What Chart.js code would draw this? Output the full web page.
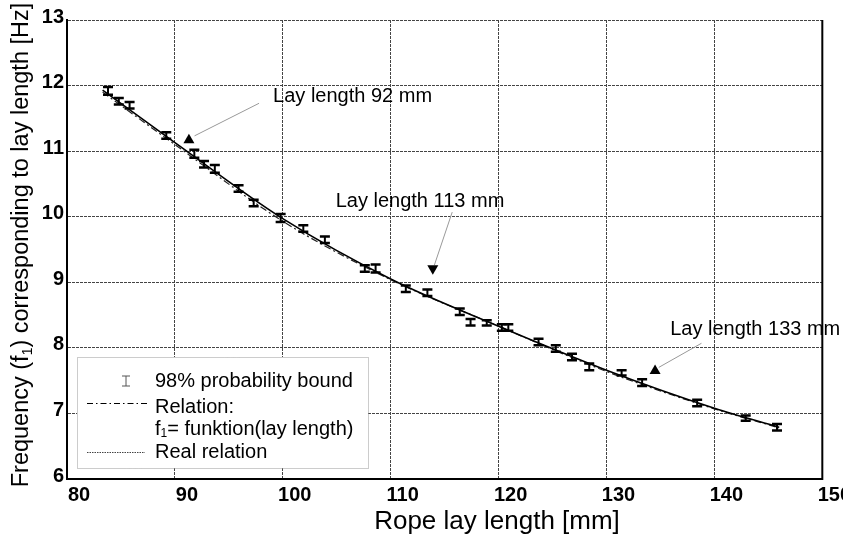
<!DOCTYPE html>
<html>
<head>
<meta charset="utf-8">
<title>Frequency vs rope lay length</title>
<script src="https://cdn.jsdelivr.net/npm/chart.js@4.4.0/dist/chart.umd.min.js"></script>
<style>
  html, body { margin: 0; padding: 0; background: #fff; }
  #wrap { width: 843px; height: 540px; }
</style>
</head>
<body>
<div id="wrap"><canvas id="chart" width="843" height="540"></canvas></div>
<script>
// Measured points: rope lay length [mm] -> frequency f1 [Hz], with 98% bound (half height)
const layLength = [83.8, 84.8, 85.8, 89.2, 91.8, 92.7, 93.7, 95.9, 97.3, 99.8,
                   101.9, 103.9, 107.6, 108.6, 111.4, 113.4, 116.4, 117.4, 118.9, 120.3,
                   120.9, 123.7, 125.3, 126.8, 128.4, 131.4, 133.3, 138.4, 142.9, 145.8];
const freq = [11.92, 11.76, 11.70, 11.24, 10.96, 10.80, 10.73, 10.43, 10.21, 9.98,
              9.82, 9.65, 9.21, 9.21, 8.90, 8.84, 8.55, 8.39, 8.38, 8.31,
              8.31, 8.09, 7.99, 7.86, 7.71, 7.62, 7.47, 7.16, 6.93, 6.79];
const bound = [0.06, 0.05, 0.05, 0.05, 0.06, 0.05, 0.06, 0.05, 0.05, 0.06,
               0.05, 0.05, 0.05, 0.06, 0.05, 0.05, 0.05, 0.05, 0.04, 0.05,
               0.05, 0.05, 0.05, 0.05, 0.05, 0.04, 0.05, 0.05, 0.04, 0.05];

// Relation: f1 = funktion(lay length)  (dash-dot)
const relationX = [83.3, 90, 100, 110, 120, 130, 140, 146];
const relationY = [11.90, 11.10, 9.93, 9.04, 8.33, 7.64, 7.07, 6.78];

// Real relation (solid)
const realX = [83.3, 90, 100, 110, 120, 130, 140, 146];
const realY = [11.93, 11.13, 9.97, 9.05, 8.33, 7.66, 7.08, 6.79];

// Axis ticks
const xTicks = [80, 90, 100, 110, 120, 130, 140, 150];
const yTicks = [6, 7, 8, 9, 10, 11, 12, 13];

// Annotations: label, arrow tip (triangle), arrow tail, text anchor (left, middle)
const annLabels = ['Lay length 92 mm', 'Lay length 113 mm', 'Lay length 133 mm'];
const annTip = [[91.3, 11.19], [113.9, 9.19], [134.5, 7.67]];
const annTail = [[97.8, 11.73], [115.7, 10.07], [138.8, 8.07]];
const annText = [[99.1, 11.84], [104.9, 10.23], [135.9, 8.28]];
const annUp = [true, false, true];

const FONT = '"Liberation Sans", Arial, sans-serif';

// draws text with a lowered small "1" between two parts, starting at x
function subText(ctx, before, after, x, y, size) {
  ctx.font = size + 'px ' + FONT;
  ctx.fillText(before, x, y);
  let w = ctx.measureText(before).width;
  ctx.font = Math.round(size * 0.6) + 'px ' + FONT;
  ctx.fillText('1', x + w, y + size * 0.25);
  w += ctx.measureText('1').width;
  ctx.font = size + 'px ' + FONT;
  ctx.fillText(after, x + w, y);
}

function subTextWidth(ctx, before, after, size) {
  ctx.font = size + 'px ' + FONT;
  let w = ctx.measureText(before).width + ctx.measureText(after).width;
  ctx.font = Math.round(size * 0.6) + 'px ' + FONT;
  return w + ctx.measureText('1').width;
}

// Error bars drawn through the chart scales
const errorBars = {
  id: 'errorBars',
  afterDatasetsDraw(chart) {
    const { ctx, scales: { x, y } } = chart;
    ctx.save();
    ctx.strokeStyle = '#000';
    layLength.forEach((v, i) => {
      const px = x.getPixelForValue(v);
      const top = y.getPixelForValue(freq[i] + bound[i]);
      const bot = y.getPixelForValue(freq[i] - bound[i]);
      ctx.lineWidth = 2;
      ctx.beginPath();
      ctx.moveTo(px, top); ctx.lineTo(px, bot);
      ctx.stroke();
      ctx.lineWidth = 2.5;
      ctx.beginPath();
      ctx.moveTo(px - 5, top); ctx.lineTo(px + 5, top);
      ctx.moveTo(px - 5, bot); ctx.lineTo(px + 5, bot);
      ctx.stroke();
    });
    ctx.restore();
  }
};

// Arrows with labels
const annotations = {
  id: 'annotations',
  afterDatasetsDraw(chart) {
    const { ctx, scales: { x, y } } = chart;
    ctx.save();
    annLabels.forEach((label, i) => {
      const tx = x.getPixelForValue(annTip[i][0]);
      const ty = y.getPixelForValue(annTip[i][1]);
      const sx = x.getPixelForValue(annTail[i][0]);
      const sy = y.getPixelForValue(annTail[i][1]);
      ctx.strokeStyle = '#999';
      ctx.lineWidth = 1;
      ctx.beginPath();
      ctx.moveTo(sx, sy);
      ctx.lineTo(tx + (sx - tx) * 0.08, ty + (sy - ty) * 0.08);
      ctx.stroke();
      // triangle marker
      ctx.fillStyle = '#000';
      ctx.beginPath();
      if (annUp[i]) {
        ctx.moveTo(tx, ty - 5); ctx.lineTo(tx + 5.5, ty + 4.5); ctx.lineTo(tx - 5.5, ty + 4.5);
      } else {
        ctx.moveTo(tx, ty + 5); ctx.lineTo(tx + 5.5, ty - 4.5); ctx.lineTo(tx - 5.5, ty - 4.5);
      }
      ctx.closePath();
      ctx.fill();
      // text
      ctx.font = '20px ' + FONT;
      ctx.textAlign = 'left';
      ctx.textBaseline = 'middle';
      ctx.fillText(label, x.getPixelForValue(annText[i][0]), y.getPixelForValue(annText[i][1]));
    });
    ctx.restore();
  }
};

// Right frame line, axis titles and the boxed legend
const frameAndLegend = {
  id: 'frameAndLegend',
  afterDraw(chart) {
    const { ctx, chartArea: a } = chart;
    ctx.save();
    ctx.strokeStyle = '#000';
    ctx.lineWidth = 2;
    ctx.beginPath();
    ctx.moveTo(a.right, a.top); ctx.lineTo(a.right, a.bottom + 1);
    ctx.stroke();

    // axis titles
    ctx.fillStyle = '#000';
    ctx.textBaseline = 'middle';
    ctx.textAlign = 'center';
    ctx.font = '26px ' + FONT;
    ctx.fillText('Rope lay length [mm]', 497, 522);

    ctx.save();
    ctx.translate(22, 245);
    ctx.rotate(-Math.PI / 2);
    ctx.textAlign = 'left';
    const before = 'Frequency (f', after = ') corresponding to lay length [Hz]';
    const tw = subTextWidth(ctx, before, after, 23.5);
    subText(ctx, before, after, -tw / 2, 0, 23.5);
    ctx.restore();

    // legend box
    const lx = 77, ly = 357, lw = 291, lh = 111;
    ctx.fillStyle = '#fff';
    ctx.fillRect(lx, ly, lw, lh);
    ctx.strokeStyle = '#999';
    ctx.lineWidth = 1;
    ctx.setLineDash([1, 1]);
    ctx.strokeRect(lx + 0.5, ly + 0.5, lw, lh);

    // error bar symbol
    ctx.setLineDash([]);
    ctx.strokeStyle = '#555';
    ctx.beginPath();
    ctx.moveTo(126, 376); ctx.lineTo(126, 386);
    ctx.moveTo(122, 376); ctx.lineTo(130, 376);
    ctx.moveTo(122, 386); ctx.lineTo(130, 386);
    ctx.stroke();

    // dash-dot symbol
    ctx.strokeStyle = '#000';
    ctx.setLineDash([6, 3, 1.5, 3]);
    ctx.beginPath();
    ctx.moveTo(87, 403.5); ctx.lineTo(147, 403.5);
    ctx.stroke();

    // real relation symbol
    ctx.strokeStyle = '#444';
    ctx.setLineDash([1.5, 1]);
    ctx.beginPath();
    ctx.moveTo(87, 452.5); ctx.lineTo(145, 452.5);
    ctx.stroke();
    ctx.setLineDash([]);

    ctx.fillStyle = '#000';
    ctx.textAlign = 'left';
    ctx.textBaseline = 'middle';
    ctx.font = '20px ' + FONT;
    ctx.fillText('98% probability bound', 155, 381);
    ctx.fillText('Relation:', 155, 407);
    subText(ctx, 'f', '= funktion(lay length)', 155, 429, 20);
    ctx.fillText('Real relation', 155, 452);
    ctx.restore();
  }
};

const measured = layLength.map((v, i) => ({ x: v, y: freq[i] }));
const relation = relationX.map((v, i) => ({ x: v, y: relationY[i] }));
const real = realX.map((v, i) => ({ x: v, y: realY[i] }));

new Chart(document.getElementById('chart').getContext('2d'), {
  type: 'scatter',
  data: {
    datasets: [
      {
        label: 'Real relation',
        data: real,
        showLine: true,
        borderColor: '#000',
        borderWidth: 1.6,
        pointRadius: 0,
        cubicInterpolationMode: 'monotone'
      },
      {
        label: 'Relation: f1 = funktion(lay length)',
        data: relation,
        showLine: true,
        borderColor: '#222',
        borderWidth: 1.2,
        borderDash: [7, 3, 2, 3],
        pointRadius: 0,
        cubicInterpolationMode: 'monotone'
      },
      {
        label: '98% probability bound',
        data: measured,
        showLine: false,
        pointRadius: 0
      }
    ]
  },
  options: {
    responsive: false,
    animation: false,
    devicePixelRatio: 1,
    layout: { padding: { top: 20, right: 20, left: 0, bottom: 0 } },
    plugins: { legend: { display: false }, tooltip: { enabled: false } },
    scales: {
      x: {
        type: 'linear',
        min: 80,
        max: 150,
        afterBuildTicks: scale => { scale.ticks = xTicks.map(v => ({ value: v })); },
        afterFit: scale => { scale.height = 61; },
        grid: { color: '#444', lineWidth: 1, drawTicks: false },
        border: { display: true, color: '#000', width: 2, dash: [3, 1] },
        ticks: {
          autoSkip: false,
          maxRotation: 0,
          padding: 4,
          labelOffset: 12,
          color: '#000',
          font: { family: FONT, size: 20, weight: 'bold' }
        }
      },
      y: {
        type: 'linear',
        min: 6,
        max: 13,
        afterBuildTicks: scale => { scale.ticks = yTicks.map(v => ({ value: v })); },
        afterFit: scale => { scale.width = 67; },
        grid: { color: '#444', lineWidth: 1, drawTicks: false },
        border: { display: true, color: '#000', width: 2, dash: [3, 1] },
        ticks: {
          padding: 3,
          labelOffset: -3,
          color: '#000',
          font: { family: FONT, size: 20, weight: 'bold' }
        }
      }
    }
  },
  plugins: [errorBars, annotations, frameAndLegend]
});
</script>
</body>
</html>
